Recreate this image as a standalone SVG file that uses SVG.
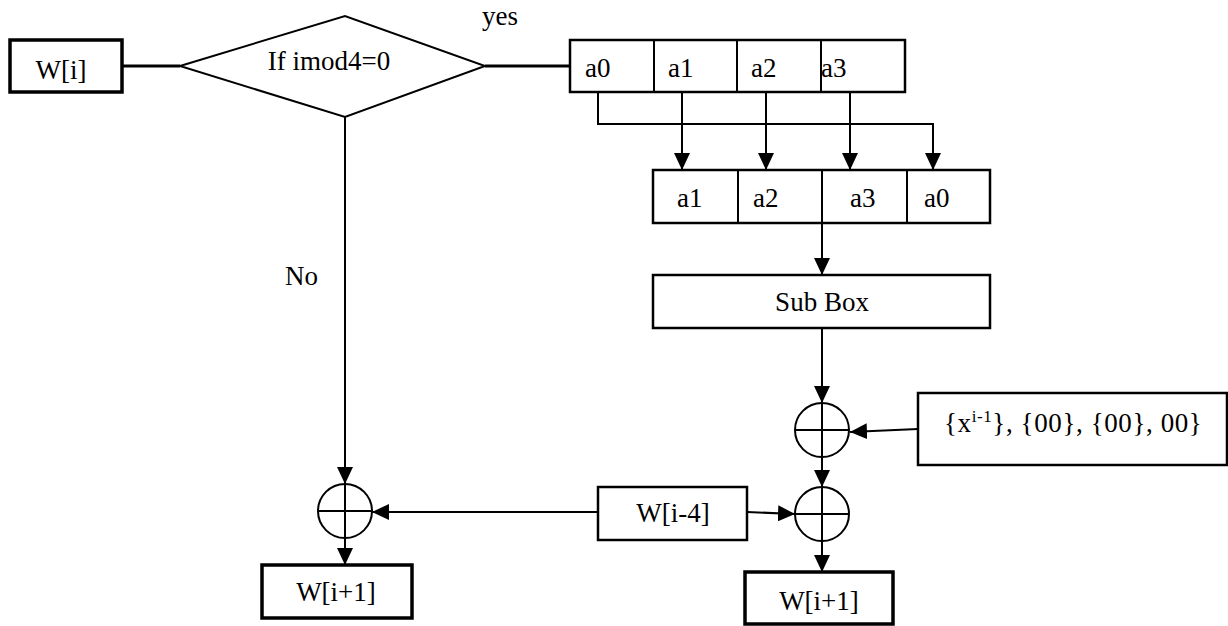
<svg xmlns="http://www.w3.org/2000/svg" width="1228" height="626" viewBox="0 0 1228 626">
  <style>
    .box { fill: #fff; stroke: #000; stroke-width: 2.5; }
    .thick { stroke-width: 3.5; }
    .div { stroke: #000; stroke-width: 2; }
    text { font-family: "Liberation Serif", "DejaVu Serif", "Times New Roman", serif; font-size: 27px; fill: #000; }
    .mid { text-anchor: middle; }
    .wire { fill: none; stroke: #000; stroke-width: 2; }
    .xor { fill: #fff; stroke: #000; stroke-width: 2; }
  </style>
  <defs>
    <marker id="arrow" markerUnits="userSpaceOnUse" markerWidth="18" markerHeight="16" refX="17" refY="8" orient="auto">
      <path d="M0,0 L17,8 L0,16 z" fill="#000"/>
    </marker>
  </defs>

  <rect width="1228" height="626" fill="#fff"/>

  <!-- connectors -->
  <g id="connectors">
    <line class="wire" x1="122" y1="66" x2="180" y2="66" style="stroke-width:3"/>
    <line class="wire" x1="485" y1="66" x2="570" y2="66" style="stroke-width:3"/>
    <!-- word rotation -->
    <line class="wire" x1="682" y1="92" x2="682" y2="170" marker-end="url(#arrow)"/>
    <line class="wire" x1="766" y1="92" x2="766" y2="170" marker-end="url(#arrow)"/>
    <line class="wire" x1="850" y1="92" x2="850" y2="170" marker-end="url(#arrow)"/>
    <polyline class="wire" points="598,92 598,124 933,124 933,170" marker-end="url(#arrow)"/>
    <line class="wire" x1="822" y1="223" x2="822" y2="275" marker-end="url(#arrow)"/>
    <line class="wire" x1="822" y1="328" x2="822" y2="403" marker-end="url(#arrow)"/>
    <line class="wire" x1="918" y1="429" x2="850" y2="432" marker-end="url(#arrow)"/>
    <line class="wire" x1="822" y1="457" x2="822" y2="487" marker-end="url(#arrow)"/>
    <line class="wire" x1="822" y1="541" x2="822" y2="572" marker-end="url(#arrow)"/>
    <line class="wire" x1="747" y1="512" x2="795" y2="514" marker-end="url(#arrow)"/>
    <line class="wire" x1="598" y1="512" x2="372" y2="512" marker-end="url(#arrow)"/>
    <!-- no branch -->
    <line class="wire" x1="345" y1="117" x2="345" y2="484" marker-end="url(#arrow)"/>
    <line class="wire" x1="345" y1="538" x2="345" y2="565" marker-end="url(#arrow)"/>
  </g>

  <g id="w-i">
    <rect class="box thick" x="10" y="40" width="112" height="52"/>
    <text class="mid" x="61" y="79">W[i]</text>
  </g>

  <g id="decision">
    <polygon points="180,66 345,16 485,66 345,117" fill="#fff" stroke="#000" stroke-width="2"/>
    <text class="mid" x="329" y="70">If imod4=0</text>
  </g>

  <g id="label-yes"><text x="482" y="25">yes</text></g>
  <g id="label-no"><text x="285" y="285">No</text></g>

  <g id="word-in">
    <rect class="box" x="570" y="40" width="335" height="52"/>
    <line class="div" x1="654" y1="40" x2="654" y2="92"/>
    <line class="div" x1="737" y1="40" x2="737" y2="92"/>
    <line class="div" x1="821" y1="40" x2="821" y2="92"/>
    <text x="585" y="77">a0</text>
    <text x="668" y="77">a1</text>
    <text x="751" y="77">a2</text>
    <text x="821" y="77">a3</text>
  </g>

  <g id="word-rot">
    <rect class="box" x="653" y="170" width="337" height="53"/>
    <line class="div" x1="738" y1="170" x2="738" y2="223"/>
    <line class="div" x1="822" y1="170" x2="822" y2="223"/>
    <line class="div" x1="907" y1="170" x2="907" y2="223"/>
    <text x="677" y="207">a1</text>
    <text x="753" y="207">a2</text>
    <text x="850" y="207">a3</text>
    <text x="924" y="207">a0</text>
  </g>

  <g id="sub-box">
    <rect class="box" x="653" y="275" width="337" height="53"/>
    <text class="mid" x="822" y="311">Sub Box</text>
  </g>

  <g id="rcon">
    <rect class="box" x="918" y="393" width="309" height="72"/>
    <text x="944" y="432" letter-spacing="0.6">{x<tspan font-size="17" dy="-10">i-1</tspan><tspan dy="10">}, {00}, {00}, 00}</tspan></text>
  </g>

  <g id="xor-rcon">
    <circle class="xor" cx="822" cy="430" r="27"/>
    <line class="wire" x1="795" y1="430" x2="849" y2="430"/>
    <line class="wire" x1="822" y1="403" x2="822" y2="457"/>
  </g>

  <g id="xor-right">
    <circle class="xor" cx="822" cy="514" r="27"/>
    <line class="wire" x1="795" y1="514" x2="849" y2="514"/>
    <line class="wire" x1="822" y1="487" x2="822" y2="541"/>
  </g>

  <g id="xor-left">
    <circle class="xor" cx="345" cy="511" r="27"/>
    <line class="wire" x1="318" y1="511" x2="372" y2="511"/>
    <line class="wire" x1="345" y1="484" x2="345" y2="538"/>
  </g>

  <g id="w-i-4">
    <rect class="box" x="598" y="487" width="149" height="53"/>
    <text class="mid" x="673" y="522">W[i-4]</text>
  </g>

  <g id="w-next-left">
    <rect class="box thick" x="262" y="565" width="150" height="53"/>
    <text class="mid" x="336" y="601">W[i+1]</text>
  </g>

  <g id="w-next-right">
    <rect class="box thick" x="745" y="572" width="148" height="52"/>
    <text class="mid" x="819" y="610">W[i+1]</text>
  </g>
</svg>
